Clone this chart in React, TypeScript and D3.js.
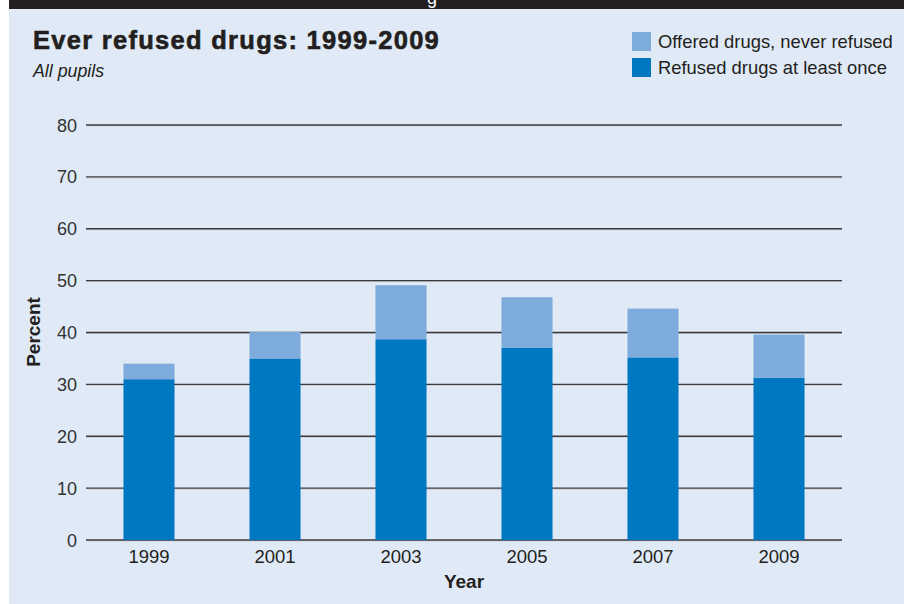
import React from "react";
import * as d3 from "d3";

// Survey years and the two stacked shares (percent of all pupils)
const years = ["1999", "2001", "2003", "2005", "2007", "2009"];
const refusedAtLeastOnce = [31.0, 35.0, 38.7, 37.1, 35.2, 31.3];
const offeredNeverRefused = [3.0, 5.1, 10.4, 9.7, 9.4, 8.3];
const yTicks = [0, 10, 20, 30, 40, 50, 60, 70, 80];
const seriesNames = ["Offered drugs, never refused", "Refused drugs at least once"];

const W = 904;
const H = 604;
const DARK = "#0077c1";
const LIGHT = "#7dabdb";
const BG = "#e0eaf6";
const FONT = "'Liberation Sans', Arial, Helvetica, sans-serif";

export default function App() {
  const x = d3.scaleBand<string>().domain(years).range([86, 842]).paddingInner(0.595).paddingOuter(0.2975);
  const y = d3.scaleLinear().domain([0, 80]).range([540, 125]);

  const rows = years.map((yr, i) => ({
    year: yr,
    refused: refusedAtLeastOnce[i],
    offered: offeredNeverRefused[i],
  }));
  const stack = d3.stack<any>().keys(["refused", "offered"]);
  const layers = stack(rows);
  const colors = [DARK, LIGHT];

  return (
    <svg
      width={W}
      height={H}
      style={{ position: "absolute", left: 0, top: 0, display: "block" }}
      fontFamily={FONT}
    >
      <rect x={0} y={0} width={W} height={H} fill="#ffffff" />
      <rect x={9} y={0} width={W - 9} height={H} fill={BG} />
      <rect x={9} y={0} width={W - 9} height={9} fill="#231f20" />
      <text x={432} y={4} fill="#ffffff" fontSize={18} textAnchor="middle">g</text>

      {/* Title block */}
      <text x={33} y={49} fontSize={25.5} fontWeight={900} fill="#231f20" letterSpacing={1.28}
        stroke="#231f20" strokeWidth={0.6}>
        Ever refused drugs: 1999-2009
      </text>
      <text x={33} y={77} fontSize={17.8} fontStyle="italic" fill="#231f20">
        All pupils
      </text>

      {/* Legend */}
      {seriesNames.map((name, i) => (
        <g key={name} transform={`translate(632, ${32 + i * 26})`}>
          <rect x={0} y={0} width={19} height={19} fill={i === 0 ? LIGHT : DARK} />
          <text x={26} y={16} fontSize={18.4} fill="#231f20">
            {name}
          </text>
        </g>
      ))}

      {/* Gridlines and y tick labels */}
      {yTicks.map((t) => (
        <g key={t}>
          <line x1={86} x2={842} y1={y(t) + 1} y2={y(t) + 1} stroke="#c8cdd4" strokeWidth={1} />
          <line x1={86} x2={842} y1={y(t)} y2={y(t)} stroke="#3a3a3c" strokeWidth={1.4} />
          <text x={77} y={y(t) + 6.5} fontSize={18} textAnchor="end" fill="#333333">
            {t}
          </text>
        </g>
      ))}

      {/* Stacked bars */}
      {layers.map((layer, li) =>
        layer.map((d, i) => (
          <rect
            key={`${li}-${i}`}
            x={x(years[i])}
            width={x.bandwidth()}
            y={y(d[1])}
            height={y(d[0]) - y(d[1])}
            fill={colors[li]}
          />
        ))
      )}

      {/* X tick labels */}
      {years.map((yr) => (
        <text key={yr} x={(x(yr) as number) + x.bandwidth() / 2} y={563} fontSize={18.5} textAnchor="middle" fill="#231f20">
          {yr}
        </text>
      ))}

      <text x={464} y={588} fontSize={19} fontWeight={700} textAnchor="middle" fill="#231f20">
        Year
      </text>
      <text
        transform="translate(40, 332) rotate(-90)"
        fontSize={19}
        fontWeight={700}
        textAnchor="middle"
        fill="#231f20"
      >
        Percent
      </text>
    </svg>
  );
}
